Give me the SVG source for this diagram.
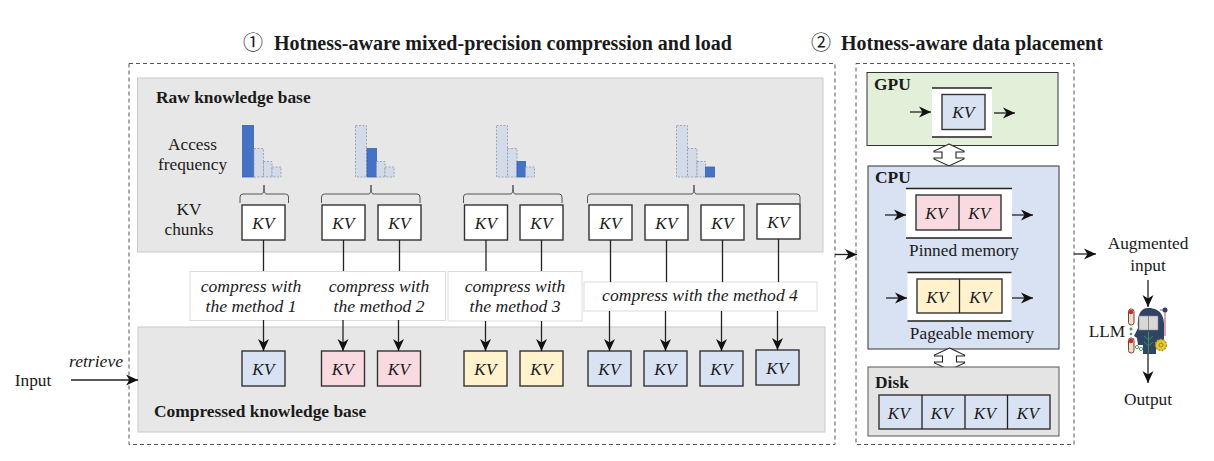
<svg xmlns="http://www.w3.org/2000/svg" width="1214" height="461" viewBox="0 0 1214 461">
<style>
text{font-family:"Liberation Serif","Times New Roman",serif;fill:#1a1a1a;text-anchor:middle}
.t{font-size:17.3px}
.b{font-size:17.4px;font-weight:bold;text-anchor:start}
.h{font-size:20px;font-weight:bold;text-anchor:start}
.i{font-size:17.6px;font-style:italic}
.kv{font-size:17px;font-style:italic;letter-spacing:.5px}
.dash{fill:none;stroke:#555;stroke-width:1;stroke-dasharray:4 3}
.panel{fill:#e7e7e7;stroke:#c9c9c9;stroke-width:1}
.box{stroke:#333;stroke-width:1.4}
.w{fill:#fff}.bl{fill:#d9e2f3}.pk{fill:#f9dae0}.yl{fill:#fff2cc}
.lab{fill:#fff;stroke:#dcdcdc;stroke-width:1}
.line{fill:none;stroke:#222;stroke-width:1.3}
.brace{fill:none;stroke:#555;stroke-width:1}
.on{fill:#4472c4;stroke:#3a62ab;stroke-width:.8}
.off{fill:#d3dbe9;stroke:#8f98a8;stroke-width:.8;stroke-dasharray:2 1.5}
.dbl{fill:#fff;stroke:#222;stroke-width:1.1}
.cj{font-family:"Noto Sans CJK SC","DejaVu Sans",sans-serif;font-weight:normal}
</style>
<defs>
<marker id="a" markerUnits="userSpaceOnUse" markerWidth="14" markerHeight="14" refX="12" refY="7" orient="auto"><path d="M0 1.500 L12 7 L0 12.500 L3.500 7Z" fill="#111"/></marker>
<g id="kvw"><rect class="box w" width="43" height="35"/><text class="kv" x="21.500" y="23.500">KV</text></g>
<g id="kvb"><rect class="box bl" width="43" height="35"/><text class="kv" x="21.500" y="23.500">KV</text></g>
<g id="kvp"><rect class="box pk" width="43" height="35"/><text class="kv" x="21.500" y="23.500">KV</text></g>
<g id="kvy"><rect class="box yl" width="43" height="35"/><text class="kv" x="21.500" y="23.500">KV</text></g>
<path id="dbl" class="dbl" d="M0 -11 L15 -4 L15 -3 L7 -3 L7 3 L15 3 L15 4 L0 11 L-15 4 L-15 3 L-7 3 L-7 -3 L-15 -3 L-15 -4Z"/>
</defs>
<rect width="1214" height="461" fill="#fff"/>

<text class="h" x="243" y="50"><tspan class="cj">①</tspan><tspan dx="11">Hotness-aware mixed-precision compression and load</tspan></text>
<text class="h" x="811" y="50"><tspan class="cj">②</tspan><tspan dx="10">Hotness-aware data placement</tspan></text>

<rect class="dash" x="129" y="63.500" width="706" height="381"/>
<rect class="dash" x="856" y="63.500" width="218" height="381"/>

<g id="raw-kb">
<rect class="panel" x="137.500" y="78" width="685.500" height="174"/>
<text class="b" x="156" y="103">Raw knowledge base</text>
<text class="t" x="192.500" y="150">Access</text>
<text class="t" x="192.500" y="170">frequency</text>
<text class="t" x="189" y="215">KV</text>
<text class="t" x="189" y="235">chunks</text>
</g>

<g id="freq-1">
<rect class="on" x="242.500" y="125.500" width="11" height="51.500"/>
<rect class="off" x="254" y="148.500" width="9.500" height="28.500"/>
<rect class="off" x="263.500" y="161.500" width="8.500" height="15.500"/>
<rect class="off" x="272" y="167" width="9" height="10"/>
</g>
<g id="freq-2">
<rect class="off" x="355.500" y="125.500" width="11" height="51.500"/>
<rect class="on" x="367" y="148.500" width="9.500" height="28.500"/>
<rect class="off" x="376.500" y="161.500" width="8.500" height="15.500"/>
<rect class="off" x="385" y="167" width="9" height="10"/>
</g>
<g id="freq-3">
<rect class="off" x="496.500" y="125.500" width="11" height="51.500"/>
<rect class="off" x="507.500" y="148.500" width="9.500" height="28.500"/>
<rect class="on" x="517" y="161.500" width="8.500" height="15.500"/>
<rect class="off" x="525.500" y="167" width="9" height="10"/>
</g>
<g id="freq-4">
<rect class="off" x="676.500" y="125.500" width="11" height="51.500"/>
<rect class="off" x="687.500" y="148.500" width="9.500" height="28.500"/>
<rect class="off" x="697" y="161.500" width="8.500" height="15.500"/>
<rect class="on" x="705.500" y="167" width="9" height="10"/>
</g>

<g id="braces">
<path class="brace" d="M240 203 V197 Q240 194 243 194 H262 Q264 194 264 185 Q264 194 266 194 H285.500 Q288.500 194 288.500 197 V203"/>
<path class="brace" d="M321.500 203 V197 Q321.500 194 324.500 194 H369 Q371 194 371 185 Q371 194 373 194 H417 Q420 194 420 197 V203"/>
<path class="brace" d="M463.500 203 V197 Q463.500 194 466.500 194 H511 Q513 194 513 185 Q513 194 515 194 H559 Q562 194 562 197 V203"/>
<path class="brace" d="M587.500 203 V197 Q587.500 194 590.500 194 H692 Q694 194 694 185 Q694 194 696 194 H797 Q800 194 800 197 V203"/>
</g>

<g id="compressed-kb">
<rect class="panel" x="138" y="327" width="687" height="105"/>
<text class="b" x="154" y="417">Compressed knowledge base</text>
</g>

<g id="method-1-2">
<rect class="lab" x="190" y="271.500" width="255.500" height="49"/>
<text class="i" x="251" y="292">compress with</text><text class="i" x="251" y="312">the method 1</text>
<text class="i" x="379" y="292">compress with</text><text class="i" x="379" y="312">the method 2</text>
</g>
<g id="method-3">
<rect class="lab" x="448" y="271.500" width="134" height="49.500"/>
<text class="i" x="515" y="292">compress with</text><text class="i" x="515" y="312">the method 3</text>
</g>
<g id="method-4">
<rect class="lab" x="584" y="282" width="233" height="29"/>
<text class="i" x="700" y="301">compress with the method 4</text>
</g>

<g id="raw-chunks">
<use href="#kvw" x="242" y="205"/>
<use href="#kvw" x="322" y="205"/><use href="#kvw" x="378" y="205"/>
<use href="#kvw" x="464.500" y="205"/><use href="#kvw" x="520" y="205"/>
<use href="#kvw" x="589" y="205"/><use href="#kvw" x="645" y="205"/><use href="#kvw" x="701" y="205"/><use href="#kvw" x="757" y="204"/>
</g>
<g id="compressed-chunks">
<use href="#kvb" x="242" y="351"/>
<use href="#kvp" x="321.500" y="351"/><use href="#kvp" x="377.500" y="351"/>
<use href="#kvy" x="464" y="351"/><use href="#kvy" x="520" y="351"/>
<use href="#kvb" x="588" y="351"/><use href="#kvb" x="644" y="351"/><use href="#kvb" x="700" y="351"/><use href="#kvb" x="756" y="350"/>
</g>

<g id="input"><text class="t" x="33" y="386">Input</text><text class="i" x="96" y="367">retrieve</text></g>

<g id="gpu">
<rect x="867" y="72.500" width="191" height="73" fill="#e2efd9" stroke="#333"/>
<text class="b" x="874" y="90">GPU</text>
<rect class="w" x="932" y="88" width="60" height="49"/>
<path class="line" d="M932 88 H992 M932 137 H992"/>
<use href="#kvb" x="942" y="94.500"/>
</g>
<use href="#dbl" x="949" y="155"/>
<g id="cpu">
<rect x="868" y="166" width="191" height="183" fill="#d9e2f3" stroke="#333"/>
<text class="b" x="875" y="183">CPU</text>
<rect class="w" x="906" y="188" width="106" height="50"/>
<path class="line" d="M906 188.500 H1012 M906 238 H1012"/>
<rect class="box pk" x="916" y="195" width="85" height="35"/>
<path class="line" d="M959 195 V230"/>
<text class="kv" x="936.500" y="219">KV</text><text class="kv" x="979.500" y="219">KV</text>
<text class="t" x="964" y="256">Pinned memory</text>
<rect class="w" x="907.500" y="272" width="104" height="49"/>
<path class="line" d="M907.500 272.500 H1011.500 M907.500 321 H1011.500"/>
<rect class="box yl" x="917" y="279" width="85" height="34"/>
<path class="line" d="M959.500 279 V313"/>
<text class="kv" x="937.500" y="303">KV</text><text class="kv" x="980.500" y="303">KV</text>
<text class="t" x="972" y="339">Pageable memory</text>
</g>
<use href="#dbl" x="949.500" y="359"/>
<g id="disk">
<rect x="868" y="367" width="191" height="69" fill="#e4e4e4" stroke="#555"/>
<text class="b" x="875" y="388">Disk</text>
<rect class="box bl" x="879" y="395" width="171" height="34"/>
<path class="line" d="M922 395 V429 M965 395 V429 M1007.500 395 V429"/>
<text class="kv" x="899" y="419">KV</text><text class="kv" x="942" y="419">KV</text><text class="kv" x="985" y="419">KV</text><text class="kv" x="1028" y="419">KV</text>
</g>

<g id="connectors">
<path class="line" d="M263.500 240 V271"/><path class="line" d="M343.500 240 V271"/><path class="line" d="M399.500 240 V271"/>
<path class="line" d="M486 240 V271"/><path class="line" d="M541.500 240 V271"/>
<path class="line" d="M610.500 240 V282"/><path class="line" d="M666.500 240 V282"/><path class="line" d="M722.500 240 V282"/><path class="line" d="M778.500 239 V282"/>
<path class="line" marker-end="url(#a)" d="M263.500 320 V351"/>
<path class="line" marker-end="url(#a)" d="M343 320 V351"/>
<path class="line" marker-end="url(#a)" d="M398.500 320 V351"/>
<path class="line" marker-end="url(#a)" d="M485.500 321 V351"/>
<path class="line" marker-end="url(#a)" d="M541.500 321 V351"/>
<path class="line" marker-end="url(#a)" d="M609.500 311 V351"/>
<path class="line" marker-end="url(#a)" d="M665.500 311 V351"/>
<path class="line" marker-end="url(#a)" d="M721.500 311 V351"/>
<path class="line" marker-end="url(#a)" d="M777.500 311 V350"/>
<path class="line" marker-end="url(#a)" d="M71 380 H138"/>
<path class="line" marker-end="url(#a)" d="M835 254.500 H857"/>
<path class="line" marker-end="url(#a)" d="M1074 254 H1096"/>
<path class="line" marker-end="url(#a)" d="M910 112 H931"/>
<path class="line" marker-end="url(#a)" d="M994 113 H1015"/>
<path class="line" marker-end="url(#a)" d="M885 215 H906"/>
<path class="line" marker-end="url(#a)" d="M1012 215 H1033"/>
<path class="line" marker-end="url(#a)" d="M886 298 H907"/>
<path class="line" marker-end="url(#a)" d="M1012 298 H1033"/>
<path class="line" marker-end="url(#a)" d="M1148 280 V307"/>
<path class="line" marker-end="url(#a)" d="M1148 354 V383"/>
</g>

<g id="llm">
<text class="t" x="1148" y="249">Augmented</text>
<text class="t" x="1148" y="271">input</text>
<text class="t" x="1107" y="337">LLM</text>
<text class="t" x="1148" y="405">Output</text>
<path d="M1148 308 C1162 308 1165 318 1164 330 L1164 344 L1156 347 L1156 354 L1143 354 L1143 345 L1138 345 L1137 338 L1134 336 L1138 328 C1137 316 1140 308 1148 308Z" fill="#2f4465"/>
<rect x="1139" y="316" width="19" height="14" fill="#d8d8d8" stroke="#888" stroke-width=".6"/>
<path d="M1148.500 316 V330" stroke="#777" stroke-width=".8"/>
<path d="M1148.500 332 V353 M1148.500 340 L1144 336 M1148.500 340 L1153 336 M1148.500 346 L1144 342 M1148.500 346 L1153 342" stroke="#3f8f55" stroke-width="1" fill="none"/>
<circle cx="1161" cy="345" r="5.500" fill="#e8c93a" stroke="#b69a22" stroke-width="1.500" stroke-dasharray="2 1"/>
<circle cx="1161" cy="345" r="2" fill="none" stroke="#8a6f10" stroke-width=".8"/>
<path d="M1160 310 H1165 V336" fill="none" stroke="#b0505a" stroke-width="1"/>
<circle cx="1165" cy="310" r="2.500" fill="#2f4465"/>
<rect x="1128.500" y="309" width="5.500" height="16" rx="2.500" fill="#e8e0c8" stroke="#8a3a30"/>
<circle cx="1131" cy="312" r="2.200" fill="#c0302a"/>
<rect x="1128.500" y="338" width="5.500" height="15" rx="2.500" fill="#e8e0c8" stroke="#8a3a30"/>
<circle cx="1131" cy="341" r="2.200" fill="#c0302a"/>
<circle cx="1131" cy="329" r="1.500" fill="#4d9a6a"/><circle cx="1131" cy="334" r="1.300" fill="#4d9a6a"/>
<circle cx="1137" cy="347" r="1.600" fill="none" stroke="#4d9a6a"/><circle cx="1141" cy="349" r="1.600" fill="none" stroke="#4d9a6a"/>
</g>
</svg>
